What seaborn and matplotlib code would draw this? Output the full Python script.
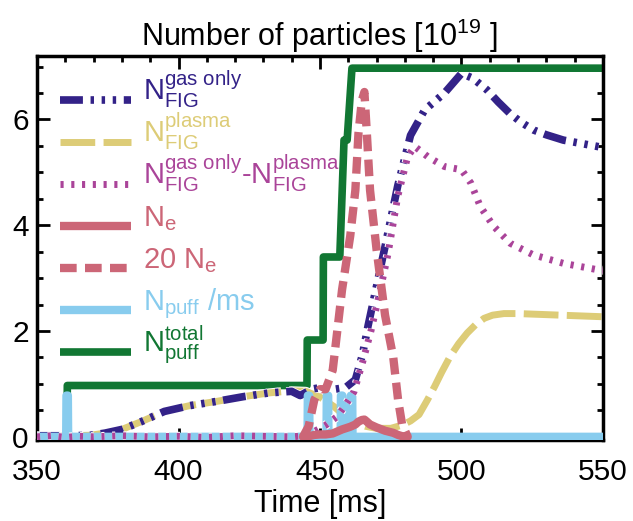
import numpy as np
import pandas as pd
import matplotlib
matplotlib.use('Agg')
import matplotlib.pyplot as plt
import matplotlib.patheffects as pe
from matplotlib.ticker import MultipleLocator
import seaborn as sns

# colours (muted palette)
c_gas = '#332288'
c_plasma = '#DDCC77'
c_diff = '#AA4499'
c_ne = '#CC6677'
c_puff = '#88CCEE'
c_total = '#117733'

# N_FIG gas only
t_gas = [350, 362, 369, 374, 380, 387, 395, 404, 413.5, 423, 432, 440, 443, 445, 447, 450, 454, 459,
         462.5, 465, 467, 470, 473, 477.5, 482, 487, 494, 500, 504, 509, 513, 517, 521, 525.5, 530,
         536, 542, 550]
n_gas = [0.02, 0.02, 0.03, 0.07, 0.14, 0.29, 0.48, 0.59, 0.67, 0.76, 0.83, 0.86, 0.78, 0.84, 0.90,
         0.93, 0.89, 0.93, 1.08, 1.55, 2.1, 2.85, 3.6, 4.75, 5.7, 6.18, 6.50, 6.87, 6.78, 6.56, 6.33,
         6.12, 5.95, 5.80, 5.71, 5.61, 5.55, 5.47]

# N_FIG plasma
t_pl = [350, 362, 369, 374, 380, 387, 395, 404, 413.5, 423, 432, 440, 445, 450, 455, 459, 462.5, 466,
        470, 475, 479, 482, 485, 488, 490.5, 493, 496, 499, 502, 505, 508, 511, 515, 520, 525, 535, 550]
n_pl = [0.02, 0.02, 0.03, 0.07, 0.14, 0.29, 0.48, 0.59, 0.67, 0.76, 0.83, 0.87, 0.86, 0.75, 0.57,
        0.38, 0.26, 0.2, 0.16, 0.16, 0.22, 0.3, 0.42, 0.7, 0.95, 1.22, 1.52, 1.76, 1.96, 2.12, 2.24,
        2.3, 2.33, 2.33, 2.32, 2.3, 2.27]

# gas only - plasma
t_diff = [350, 355, 360, 365, 370, 380, 390, 400, 410, 420, 430, 440, 445, 448, 452, 456, 459, 462,
          465, 468, 471, 474, 477.5, 481, 483.5, 488, 494, 500, 503.3, 506.7, 511.4, 517.2, 525.4,
          536, 548, 550]
n_diff = [0.0, 0.02, -0.01, 0.01, 0.0, 0.02, 0.0, 0.01, -0.01, 0.02, 0.01, 0.0, 0.02, 0.1, 0.22,
          0.38, 0.6, 0.85, 1.4, 2.0, 2.7, 3.45, 4.55, 5.3, 5.49, 5.30, 5.11, 5.05, 4.80, 4.35, 3.98,
          3.66, 3.44, 3.28, 3.16, 3.15]

# electron number
t_ne = [444, 446, 448, 450, 452, 454.5, 457.8, 460.7, 462.5, 463.6, 464.8, 465.7, 466.5, 467.7, 470,
        473, 475.9, 477.6, 479, 481]
n_e = [0.0, 0.01, 0.035, 0.045, 0.045, 0.063, 0.139, 0.19, 0.233, 0.287, 0.318, 0.326, 0.29, 0.233,
       0.177, 0.115, 0.075, 0.035, 0.012, 0.0]

# puff rate per ms
t_puff = [350, 360.3, 360.4, 360.9, 361.0, 445.6, 445.7, 446.2, 446.3, 452.3, 452.4, 452.9, 453.0,
          457.3, 457.4, 457.9, 458.0, 460.8, 460.9, 461.4, 461.5, 550]
n_puff = [0, 0, 0.78, 0.78, 0, 0, 0.78, 0.78, 0, 0, 0.78, 0.78, 0, 0, 0.78, 0.78, 0, 0, 0.78, 0.78,
          0, 0]

# total puffed
t_tot = [350, 360.6, 360.7, 445.4, 445.5, 451.1, 451.2, 457.0, 458.5, 459.6, 461.3, 550]
n_tot = [0, 0, 0.97, 0.97, 1.83, 1.83, 3.40, 3.40, 5.61, 5.61, 6.97, 6.97]

sns.set_theme(style='ticks')
plt.rcParams['font.family'] = ['Liberation Sans', 'DejaVu Sans']
plt.rcParams['mathtext.fontset'] = 'custom'
plt.rcParams['mathtext.rm'] = 'Liberation Sans'
plt.rcParams['mathtext.it'] = 'Liberation Sans:italic'
plt.rcParams['mathtext.bf'] = 'Liberation Sans:bold'
plt.rcParams['text.color'] = 'black'
plt.rcParams['axes.labelcolor'] = 'black'

fig = plt.figure(figsize=(6.33, 5.21), dpi=100)
ax = fig.add_axes([0.0585, 0.1555, 0.894, 0.737])

outline = [pe.Stroke(linewidth=6.5, foreground='white'), pe.Normal()]

sns.lineplot(x=t_tot, y=n_tot, ax=ax, color=c_total, lw=5.5, sort=False, estimator=None, zorder=1,
             label=r'N$_{\mathrm{puff}}^{\mathrm{total}}$')
sns.lineplot(x=t_pl, y=n_pl, ax=ax, color=c_plasma, lw=5, sort=False, estimator=None, zorder=2,
             linestyle=(0, (5, 1.2)), dash_capstyle='butt', path_effects=outline,
             label=r'N$_{\mathrm{FIG}}^{\mathrm{plasma}}$')
sns.lineplot(x=t_gas, y=n_gas, ax=ax, color=c_gas, lw=5.5, sort=False, estimator=None, zorder=3,
             linestyle=(0, (3.0, 1.0, 0.45, 1.0, 0.45, 1.0, 0.45, 1.0)), dash_capstyle='butt',
             path_effects=outline, label=r'N$_{\mathrm{FIG}}^{\mathrm{gas\ only}}$')
sns.lineplot(x=t_puff, y=n_puff, ax=ax, color=c_puff, lw=6, sort=False, estimator=None, zorder=4,
             label=r'N$_{\mathrm{puff}}$ /ms')
sns.lineplot(x=t_diff, y=n_diff, ax=ax, color=c_diff, lw=5, sort=False, estimator=None, zorder=5,
             linestyle=(0, (0.45, 1.1)), dash_capstyle='butt', path_effects=outline,
             label=r'N$_{\mathrm{FIG}}^{\mathrm{gas\ only}}$-N$_{\mathrm{FIG}}^{\mathrm{plasma}}$')
sns.lineplot(x=t_ne, y=np.array(n_e) * 20, ax=ax, color=c_ne, lw=6, sort=False, estimator=None,
             zorder=6, linestyle=(0, (2.0, 1.0)), dash_capstyle='butt', label=r'20 N$_{\mathrm{e}}$')
sns.lineplot(x=t_ne, y=n_e, ax=ax, color=c_ne, lw=6, sort=False, estimator=None, zorder=7,
             label=r'N$_{\mathrm{e}}$')

ax.set_xlim(350, 550)
ax.set_ylim(-0.06, 7.2)
ax.xaxis.set_major_locator(MultipleLocator(50))
ax.xaxis.set_minor_locator(MultipleLocator(10))
ax.yaxis.set_major_locator(MultipleLocator(2))
ax.yaxis.set_minor_locator(MultipleLocator(0.5))
ax.tick_params(which='both', direction='in', top=True, right=True, width=2, colors='black',
               labelsize=21.5)
ax.tick_params(which='major', length=9)
ax.tick_params(axis='x', which='major', pad=13)
ax.tick_params(axis='y', which='major', pad=6)
ax.tick_params(which='minor', length=4.5)
for s in ax.spines.values():
    s.set_linewidth(2.5)
    s.set_color('black')
ax.set_xlabel('Time [ms]', fontsize=22, labelpad=2, color='black')
ax.set_ylabel('')
ax.set_title(r'Number of particles [10$^{19}$ ]', fontsize=22, pad=7, color='black')

# legend in the original order
handles, labels = ax.get_legend_handles_labels()
order = [r'N$_{\mathrm{FIG}}^{\mathrm{gas\ only}}$', r'N$_{\mathrm{FIG}}^{\mathrm{plasma}}$',
         r'N$_{\mathrm{FIG}}^{\mathrm{gas\ only}}$-N$_{\mathrm{FIG}}^{\mathrm{plasma}}$',
         r'N$_{\mathrm{e}}$', r'20 N$_{\mathrm{e}}$', r'N$_{\mathrm{puff}}$ /ms',
         r'N$_{\mathrm{puff}}^{\mathrm{total}}$']
hmap = dict(zip(labels, handles))
leg = ax.legend([hmap[k] for k in order], order, loc='upper left', frameon=False, fontsize=21,
                handlelength=2.45, handleheight=2.1, handletextpad=0.4, labelspacing=-0.17,
                borderaxespad=0.0, labelcolor='linecolor', bbox_to_anchor=(0.02, 1.0))
# handles sit on the text baseline, as in the original
for h in leg.get_lines():
    h.set_path_effects([])
    h.set_solid_capstyle('butt')
    h.set_ydata(np.zeros_like(h.get_ydata()) + 0.5)

fig.savefig('out.png', dpi=100)
